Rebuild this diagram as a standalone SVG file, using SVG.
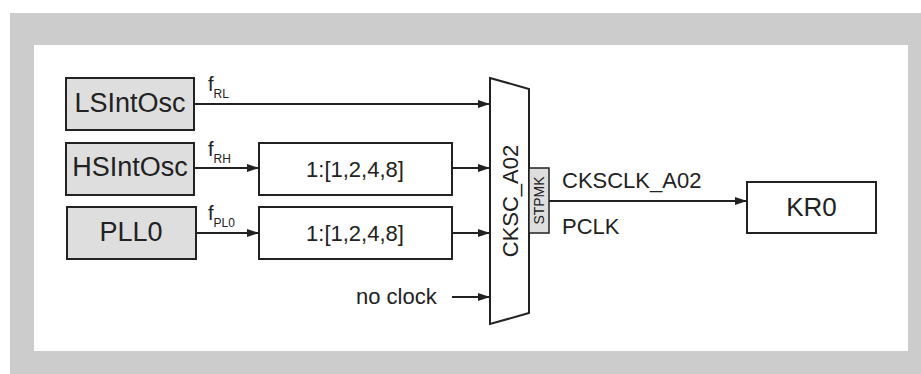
<svg xmlns="http://www.w3.org/2000/svg" width="921" height="374" viewBox="0 0 921 374">
<defs>
<marker id="ah" viewBox="0 0 12 8" refX="12" refY="4" markerWidth="12" markerHeight="8" markerUnits="userSpaceOnUse" orient="auto">
<path d="M0,0 L12,4 L0,8 Z" fill="#222"/>
</marker>
<style>
.t{font-family:"Liberation Sans",Arial,sans-serif;fill:#222}
.src{fill:#dedede;stroke:#222;stroke-width:2}
.box{fill:#fff;stroke:#222;stroke-width:2}
.ln{stroke:#222;stroke-width:2;fill:none}
</style>
</defs>
<rect x="10" y="13" width="911" height="361" fill="#cccccc"/>
<rect x="34" y="45" width="874" height="306" fill="#ffffff"/>
<g id="LSIntOsc"><rect class="src" x="66" y="78" width="128" height="52"/><text class="t" x="130" y="112" font-size="27" text-anchor="middle">LSIntOsc</text></g>
<g id="HSIntOsc"><rect class="src" x="66" y="143" width="128" height="52"/><text class="t" x="130" y="176" font-size="27" text-anchor="middle">HSIntOsc</text></g>
<g id="PLL0"><rect class="src" x="67" y="207" width="129" height="52"/><text class="t" x="131" y="241" font-size="27" text-anchor="middle">PLL0</text></g>
<g id="div1"><rect class="box" x="259" y="143" width="193" height="52"/><text class="t" x="355" y="177" font-size="22" text-anchor="middle">1:[1,2,4,8]</text></g>
<g id="div2"><rect class="box" x="259" y="207" width="193" height="52"/><text class="t" x="355" y="241" font-size="22" text-anchor="middle">1:[1,2,4,8]</text></g>
<g id="mux"><polygon class="box" points="490,78 529,89 529,313 490,324"/><text class="t" font-size="22" text-anchor="middle" transform="translate(518,201) rotate(-90)">CKSC_A02</text></g>
<g id="STPMK"><rect x="529" y="168" width="20" height="65" fill="#dedede" stroke="#222" stroke-width="1.5"/><text class="t" font-size="14" text-anchor="middle" transform="translate(544,200.5) rotate(-90)">STPMK</text></g>
<g id="KR0"><rect class="box" x="747" y="182" width="129" height="51"/><text class="t" x="811.5" y="216" font-size="26" text-anchor="middle">KR0</text></g>
<g id="connectors">
<line class="ln" x1="194" y1="104" x2="490" y2="104" marker-end="url(#ah)"/>
<line class="ln" x1="194" y1="168" x2="259" y2="168" marker-end="url(#ah)"/>
<line class="ln" x1="196" y1="233" x2="259" y2="233" marker-end="url(#ah)"/>
<line class="ln" x1="452" y1="168" x2="490" y2="168" marker-end="url(#ah)"/>
<line class="ln" x1="452" y1="233" x2="490" y2="233" marker-end="url(#ah)"/>
<line class="ln" x1="452" y1="297" x2="490" y2="297" marker-end="url(#ah)"/>
<line class="ln" x1="549" y1="201" x2="747" y2="201" marker-end="url(#ah)"/>
</g>
<g id="labels">
<text class="t" x="208" y="91" font-size="20">f<tspan font-size="12" dy="7">RL</tspan></text>
<text class="t" x="208" y="156" font-size="20">f<tspan font-size="12" dy="7">RH</tspan></text>
<text class="t" x="208" y="220" font-size="20">f<tspan font-size="12" dy="7">PL0</tspan></text>
<text class="t" x="356" y="304" font-size="22">no clock</text>
<text class="t" x="562" y="188" font-size="22">CKSCLK_A02</text>
<text class="t" x="562" y="234" font-size="22">PCLK</text>
</g>
</svg>
